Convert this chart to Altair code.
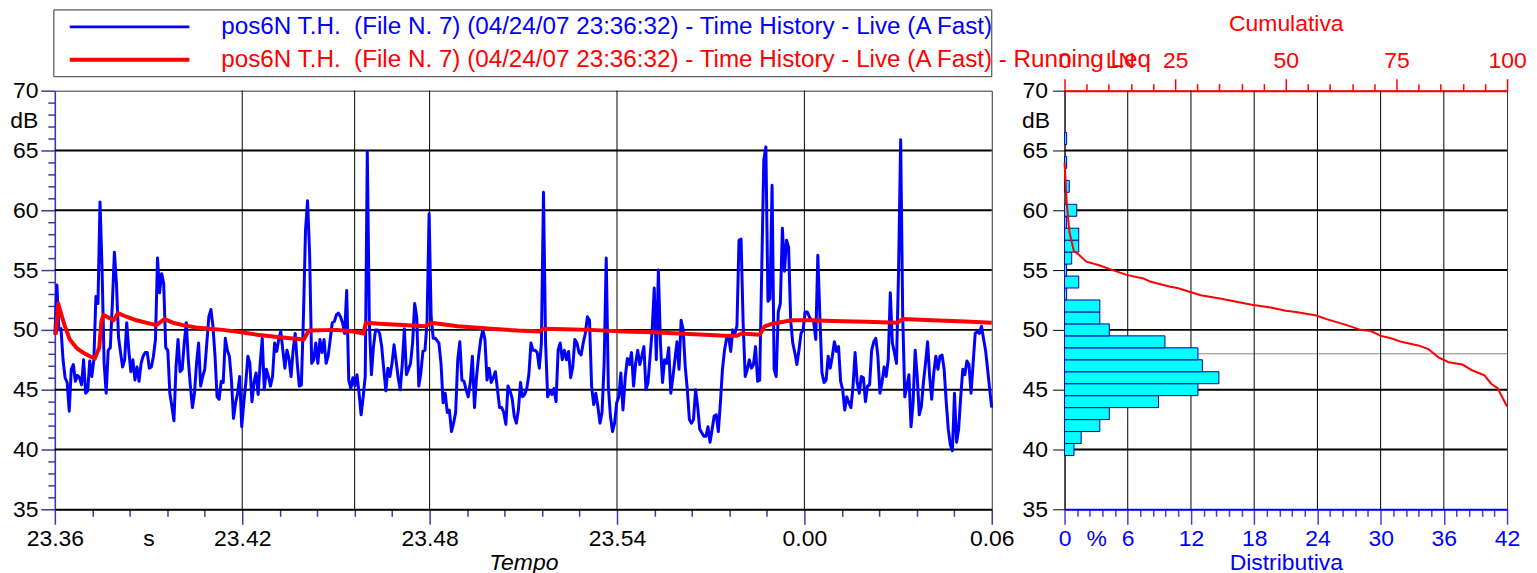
import altair as alt
import numpy as np
import pandas as pd

# ---------------- data ----------------
# Time history "Live (A Fast)" in dB, read in five consecutive stretches of the record
SEGMENT_START_MIN = [0.0, 6.245, 12.298, 18.266, 24.298]
SEGMENT_END_MIN = [6.181, 12.181, 18.191, 24.223, 30.0]

LIVE_DB_1 = [49.6, 53.75, 50.0, 50.1, 47.5, 46.0, 45.6, 43.2, 46.7, 47.1, 45.7, 46.2, 46.0, 45.4,
             47.5, 44.7, 44.9, 47.4, 46.1, 47.5, 52.8, 52.2, 60.7, 55.0, 47.2, 44.7, 48.3, 48.5,
             52.2, 56.5, 53.9, 49.4, 48.1, 46.9, 47.5, 50.6, 48.3, 46.5, 47.5, 45.8, 46.9, 45.7,
             47.2, 47.8, 48.1, 48.1, 46.8, 46.9, 47.8, 49.2, 56.0, 53.1, 54.7, 53.9, 48.5, 48.3,
             44.7, 43.6, 42.4, 46.9, 49.2, 46.5, 46.7, 48.9, 50.6, 47.5, 45.3, 43.5, 44.7, 47.2,
             48.9, 45.3, 46.1, 46.7, 48.9, 51.1, 51.7, 50.3, 47.8, 44.4, 44.2, 45.7, 45.6, 49.3,
             48.3, 47.8, 45.8, 42.6, 43.9, 44.7, 46.1, 41.9, 43.9, 45.6, 47.8]
LIVE_DB_2 = [47.2, 44.0, 45.6, 46.4, 44.6, 47.2, 49.3, 45.0, 46.7, 46.1, 45.3, 46.1, 48.9, 48.2,
             49.2, 49.9, 48.3, 46.8, 48.3, 47.6, 46.1, 48.3, 49.7, 47.2, 45.3, 45.4, 51.1, 58.3,
             60.8, 56.4, 47.2, 47.5, 48.9, 47.2, 49.2, 48.1, 49.2, 47.2, 47.8, 49.2, 50.6, 50.7,
             51.25, 51.4, 51.1, 50.6, 49.7, 53.3, 45.8, 45.1, 46.0, 45.3, 46.25, 44.7, 42.9, 44.4,
             46.1, 64.9, 50.6, 46.25, 48.6, 50.0, 50.0, 49.7, 48.6, 46.7, 44.9, 46.8, 46.1, 47.2,
             48.75, 47.4, 46.0, 45.0, 47.2, 50.1, 46.25, 46.7, 47.2, 48.9, 52.2, 51.1, 45.3, 46.4,
             48.2, 48.3, 50.6, 59.7, 51.1, 49.3, 49.3]
LIVE_DB_3 = [48.9, 47.2, 43.9, 44.7, 43.1, 43.3, 41.5, 42.2, 43.1, 47.5, 49.0, 45.8, 45.7, 45.0,
             44.4, 45.6, 47.8, 43.5, 46.1, 47.8, 49.2, 50.0, 49.2, 45.8, 46.8, 45.6, 46.0, 46.5,
             45.0, 43.5, 43.5, 43.1, 42.1, 45.3, 44.9, 44.3, 42.8, 42.2, 43.3, 45.6, 44.4, 44.6,
             45.1, 46.25, 48.9, 48.3, 48.3, 48.1, 46.8, 48.9, 61.5, 48.9, 44.4, 44.9, 44.6, 45.1,
             44.0, 48.3, 48.9, 47.5, 48.3, 47.5, 48.2, 46.0, 46.9, 49.2, 48.9, 48.1, 47.9, 48.9,
             49.7, 51.1, 50.8, 45.3, 43.75, 44.7, 43.6, 42.2, 43.1, 47.2, 56.0, 45.3, 42.8, 41.5,
             42.2, 43.9, 44.4, 46.4, 43.3]
LIVE_DB_4 = [46.1, 47.6, 47.1, 48.1, 45.3, 47.2, 48.3, 47.1, 47.8, 48.6, 45.0, 45.6, 47.8, 50.0,
             53.5, 47.5, 55.0, 48.9, 45.6, 47.5, 47.2, 48.5, 44.7, 46.0, 47.5, 49.0, 46.7, 50.8,
             50.0, 46.9, 45.0, 42.5, 42.2, 42.5, 45.0, 43.6, 41.7, 41.4, 41.1, 41.1, 41.9, 40.6,
             41.7, 42.8, 42.9, 41.5, 43.9, 46.7, 48.3, 49.3, 49.4, 48.2, 50.0, 49.7, 50.3, 57.5,
             57.6, 50.6, 46.1, 46.7, 47.5, 46.8, 47.1, 48.6, 45.7, 45.8, 55.0, 64.2, 65.3, 52.4,
             52.6, 62.1, 46.7, 46.1, 51.5, 52.2, 58.5, 54.9, 57.5, 56.9, 50.8, 48.9, 48.1, 47.1,
             48.3, 49.7, 50.0, 51.5, 51.5, 51.1, 50.8]
LIVE_DB_5 = [50.7, 49.2, 56.25, 51.1, 46.4, 45.6, 45.8, 47.8, 46.8, 47.8, 49.0, 48.2, 48.6, 45.7,
             45.0, 43.3, 44.4, 43.9, 43.5, 45.3, 48.1, 45.6, 44.7, 46.1, 46.0, 44.0, 45.3, 45.4,
             48.3, 49.0, 49.3, 47.8, 44.7, 45.6, 46.9, 46.1, 47.5, 53.1, 48.9, 48.1, 47.2, 55.0,
             65.9, 51.1, 44.4, 45.3, 46.25, 41.9, 43.9, 48.3, 46.1, 42.9, 43.6, 45.6, 47.2, 49.0,
             46.1, 44.2, 46.4, 47.8, 46.7, 47.8, 47.9, 46.7, 44.0, 41.7, 40.4, 39.9, 44.7, 40.6,
             41.7, 44.4, 46.7, 46.25, 47.4, 47.1, 44.7, 47.2, 49.7, 49.86, 49.7, 50.3, 49.3, 48.3,
             46.7, 45.0, 43.5]
LIVE_SEGMENTS = [LIVE_DB_1, LIVE_DB_2, LIVE_DB_3, LIVE_DB_4, LIVE_DB_5]

# Running Leq (minutes from 23:36, dB)
RUNNING_T_MIN = [0.03, 0.11, 0.21, 0.32, 0.48, 0.69, 0.90, 1.12, 1.28, 1.42, 1.49, 1.56, 1.76,
                 1.88, 2.02, 2.29, 2.61, 2.93, 3.25, 3.51, 3.78, 4.10, 4.52, 4.95, 5.37, 5.80,
                 6.48, 7.12, 7.97, 8.13, 9.03, 9.56, 9.88, 9.96, 10.52, 11.16, 11.85, 12.01,
                 12.05, 12.90, 13.97, 14.82, 15.51, 15.65, 16.31, 17.16, 18.22, 19.12, 19.97,
                 20.82, 21.46, 21.83, 21.99, 22.57, 22.73, 22.95, 23.16, 23.59, 24.22, 24.90,
                 25.97, 26.98, 27.14, 28.10, 29.16, 30.0]
RUNNING_DB = [49.6, 52.2, 51.25, 50.3, 49.2, 48.5, 48.1, 47.8, 47.6, 48.5, 50.7, 51.25, 50.97,
              50.8, 51.4, 51.1, 50.8, 50.6, 50.4, 50.9, 50.6, 50.4, 50.2, 50.1, 50.0, 49.86,
              49.6, 49.4, 49.2, 49.94, 50.0, 49.86, 49.7, 50.6, 50.5, 50.4, 50.3, 50.5, 50.6,
              50.3, 50.1, 49.94, 49.86, 50.1, 50.05, 50.0, 49.86, 49.8, 49.7, 49.6, 49.5, 49.5,
              49.7, 49.6, 50.3, 50.5, 50.6, 50.8, 50.8, 50.75, 50.67, 50.6, 50.9, 50.8, 50.7, 50.6]

# Distribution (1 dB classes) and cumulative curve
HIST_DB = [40, 41, 42, 43, 44, 45, 46, 47, 48, 49, 50, 51, 52, 53, 54, 55, 56, 57, 58, 59, 60,
           62, 64, 66]
HIST_PCT = [0.9, 1.58, 3.35, 4.25, 8.92, 12.66, 14.65, 13.08, 12.66, 9.53, 4.25, 3.35, 3.35,
            0.2, 1.35, 0.2, 0.68, 1.35, 1.35, 0.2, 1.16, 0.45, 0.2, 0.2]
CUM_PCT = [0, 0.5, 1.1, 2.1, 3.2, 4.9, 7.8, 10.9, 14.0, 17.8, 19.3, 23.9, 25.5, 30.8, 35.4,
           38.3, 42.3, 46.2, 50.0, 52.3, 56.9, 59.2, 63.8, 66.9, 69.2, 71.5, 73.8, 76.1, 79.9,
           82.2, 84.5, 86.8, 89.9, 92.2, 94.9, 96.4, 97.9, 100]
CUM_DB = [64.0, 60.6, 58.2, 56.6, 56.3, 55.7, 55.4, 55.0, 54.6, 54.3, 54.05, 53.6, 53.5, 52.9,
          52.6, 52.4, 52.1, 51.9, 51.6, 51.5, 51.2, 50.9, 50.4, 50.0, 49.9, 49.5, 49.3, 49.0,
          48.7, 48.4, 47.7, 47.3, 47.1, 46.6, 46.2, 45.5, 45.1, 43.6]

# Axis ticks / labels / grid
TIME_TICK_MIN = [0, 6, 12, 18, 24, 30]
TIME_TICK_LABELS = ["23.36", "23.42", "23.48", "23.54", "0.00", "0.06"]
TIME_UNIT_AT, TIME_UNIT = 3, "s"
TIME_GRID_MIN = [6, 9.6, 12, 18, 24]
DB_GRID = [40, 45, 50, 55, 60, 65]
DIST_TICKS = [0, 6, 12, 18, 24, 30, 36, 42]
DIST_UNIT_AT, DIST_UNIT = 3, "%"
DIST_GRID = [6, 12, 18, 24, 30, 36]
CUM_TICKS = [0, 25, 50, 75, 100]
CUM_UNIT_AT, CUM_UNIT = 12.5, "LN"
MARKER_DB = [48]
LEGEND_LABELS = [
    "pos6N T.H.\u00a0 (File N. 7) (04/24/07 23:36:32) - Time History - Live (A Fast)",
    "pos6N T.H.\u00a0 (File N. 7) (04/24/07 23:36:32) - Time History - Live (A Fast) - Running Leq",
]

# ---------------- styling ----------------
FONT = "Liberation Sans"
BLUE = "#0000ff"
RED = "#ff0000"
NAVY = "#3a3aa8"
FS = 23


def label_expr(values, labels):
    parts = [f"abs(datum.value - {v}) < 0.001 ? '{l}'" for v, l in zip(values, labels)]
    return " : ".join(parts) + " : ''"


def major_cond(step, big, small, unit_at):
    test = (f"abs(datum.value / {step} - round(datum.value / {step})) < 0.001"
            f" || abs(datum.value - {unit_at}) < 0.001")
    return {"condition": {"test": test, "value": big}, "value": small}


def hide_at(v):
    return {"condition": {"test": f"abs(datum.value - {v}) < 0.001", "value": 0}, "value": 1}


# ---------------- tables ----------------
t_all, db_all = [], []
for s, e, seg in zip(SEGMENT_START_MIN, SEGMENT_END_MIN, LIVE_SEGMENTS):
    t_all.extend(np.linspace(s, e, len(seg)).tolist())
    db_all.extend(seg)
live = pd.DataFrame({"t": t_all, "db": db_all})
running = pd.DataFrame({"t": RUNNING_T_MIN, "db": RUNNING_DB})
hist = pd.DataFrame({"x0": 0.0, "pct": HIST_PCT,
                     "lo": [d - 0.5 for d in HIST_DB], "hi": [d + 0.5 for d in HIST_DB]})
cum = pd.DataFrame({"cum": CUM_PCT, "db": CUM_DB})

y_scale = alt.Scale(domain=[35, 70], nice=False, zero=False)
t_scale = alt.Scale(domain=[0, 30], nice=False, zero=False)
d_scale = alt.Scale(domain=[0, 42], nice=False, zero=False)
c_scale = alt.Scale(domain=[0, 100], nice=False, zero=False)

minor_t = [round(i * 1.2, 3) for i in range(26)]
t_axis = alt.Axis(
    values=minor_t + [TIME_UNIT_AT],
    labelExpr=label_expr(TIME_TICK_MIN + [TIME_UNIT_AT], TIME_TICK_LABELS + [TIME_UNIT]),
    title="Tempo", titleFontStyle="italic", titlePadding=1,
    tickSize=major_cond(6, 15, 7, TIME_UNIT_AT), tickOpacity=hide_at(TIME_UNIT_AT),
    tickColor=NAVY, tickWidth=1.5, domainColor="black", domainWidth=2,
    labelPadding=3, labelFlush=False, labelOverlap=False,
)
y_axis_left = alt.Axis(
    values=list(range(35, 71)),
    labelExpr="datum.value % 5 === 0 ? datum.value + '' : ''",
    tickSize=major_cond(5, 14, 7, 35), tickColor=NAVY, tickWidth=1.5,
    domainColor=NAVY, domainWidth=1.5, labelPadding=3, labelFlush=False, labelOverlap=False,
    title="dB", titleAngle=0, titleAlign="right", titleBaseline="middle", titleX=-17, titleY=30,
)

x_enc = alt.X("t:Q", scale=t_scale, axis=t_axis)
y_enc = alt.Y("db:Q", scale=y_scale, axis=y_axis_left)

hgrid = alt.Chart(pd.DataFrame({"db": DB_GRID})).mark_rule(color="black", strokeWidth=2).encode(y=y_enc)
vgrid = alt.Chart(pd.DataFrame({"t": TIME_GRID_MIN})).mark_rule(color="black", strokeWidth=1).encode(x=x_enc)
live_line = alt.Chart(live).mark_line(color=BLUE, strokeWidth=3, strokeJoin="round").encode(x=x_enc, y=y_enc)
run_line = alt.Chart(running).mark_line(color=RED, strokeWidth=4, strokeJoin="round").encode(x=x_enc, y=y_enc)

leg_df = pd.DataFrame({"label": LEGEND_LABELS})
legend_box = alt.Chart(leg_df.iloc[[0]]).mark_rect(fill="white", stroke="#333", strokeWidth=1).encode(
    x=alt.value(-1), x2=alt.value(940), y=alt.value(-81), y2=alt.value(-14))
legend_layers = [legend_box]
for i, (col, w, yy) in enumerate([(BLUE, 3, -64), (RED, 4, -31)]):
    legend_layers.append(alt.Chart(leg_df.iloc[[i]]).mark_rule(color=col, strokeWidth=w).encode(
        x=alt.value(15), x2=alt.value(135), y=alt.value(yy)))
    legend_layers.append(alt.Chart(leg_df.iloc[[i]]).mark_text(
        align="left", baseline="middle", font=FONT, fontSize=24.3, color=col).encode(
        x=alt.value(167), y=alt.value(yy), text="label:N"))

left = alt.layer(hgrid, vgrid, live_line, run_line, *legend_layers).properties(width=940, height=420)

# ---------------- right panel ----------------
minor_d = [round(i * 1.2, 3) for i in range(36)]
d_axis = alt.Axis(
    orient="bottom", values=minor_d + [DIST_UNIT_AT],
    labelExpr=label_expr(DIST_TICKS + [DIST_UNIT_AT], [str(v) for v in DIST_TICKS] + [DIST_UNIT]),
    title="Distributiva", titleColor=BLUE, titlePadding=1, labelColor=BLUE,
    tickSize=major_cond(6, 15, 7, DIST_UNIT_AT), tickOpacity=hide_at(DIST_UNIT_AT),
    tickColor="#4040e0", tickWidth=1.5, domainColor=BLUE, domainWidth=2,
    labelPadding=3, labelFlush=False, labelOverlap=False,
)
minor_c = list(range(0, 101, 5))
c_axis = alt.Axis(
    orient="top", values=minor_c + [CUM_UNIT_AT],
    labelExpr=label_expr(CUM_TICKS + [CUM_UNIT_AT], [str(v) for v in CUM_TICKS] + [CUM_UNIT]),
    title="Cumulativa", titleColor=RED, titlePadding=14, labelColor=RED,
    tickSize=major_cond(25, 12, 7, CUM_UNIT_AT), tickOpacity=hide_at(CUM_UNIT_AT),
    tickColor=RED, tickWidth=1.5, domainColor=RED, domainWidth=2,
    labelPadding=6, labelFlush=False, labelOverlap=False,
)
y_axis_right = alt.Axis(
    values=list(range(35, 71, 5)), tickSize=12, tickColor="black", domainColor="black",
    labelPadding=5, labelFlush=False, labelOverlap=False,
    title="dB", titleAngle=0, titleAlign="right", titleBaseline="middle", titleX=-15, titleY=30,
)
yr = alt.Y("db:Q", scale=y_scale, axis=y_axis_right)

hgrid_r = alt.Chart(pd.DataFrame({"db": DB_GRID})).mark_rule(color="black", strokeWidth=2).encode(y=yr)
mark_r = alt.Chart(pd.DataFrame({"db": MARKER_DB})).mark_rule(color="#888", strokeWidth=1).encode(y=yr)
vgrid_r = alt.Chart(pd.DataFrame({"pct": DIST_GRID})).mark_rule(color="black", strokeWidth=1).encode(
    x=alt.X("pct:Q", scale=d_scale, axis=None))
bars = alt.Chart(hist).mark_rect(fill="#00ffff", stroke="#0000b0", strokeWidth=1).encode(
    x=alt.X("x0:Q", scale=d_scale, axis=d_axis), x2="pct:Q",
    y=alt.Y("lo:Q", scale=y_scale, axis=y_axis_right), y2="hi:Q")
cum_line = alt.Chart(cum).mark_line(color=RED, strokeWidth=2).encode(
    x=alt.X("cum:Q", scale=c_scale, axis=c_axis), y=yr)

right = alt.layer(hgrid_r, mark_r, vgrid_r, bars, cum_line).resolve_scale(x="independent").properties(
    width=444, height=420)

chart = alt.hconcat(left, right, spacing=73, bounds="flush").properties(
    padding={"left": 1, "top": 0, "right": 2, "bottom": 0}, background="white"
).configure_view(stroke="#333", strokeWidth=1).configure_axis(
    labelFont=FONT, titleFont=FONT, labelFontSize=FS, titleFontSize=FS, grid=False,
    titleFontWeight="normal", labelColor="black", titleColor="black",
)

chart.save("out.html", embed_options={"renderer": "svg", "actions": False})
